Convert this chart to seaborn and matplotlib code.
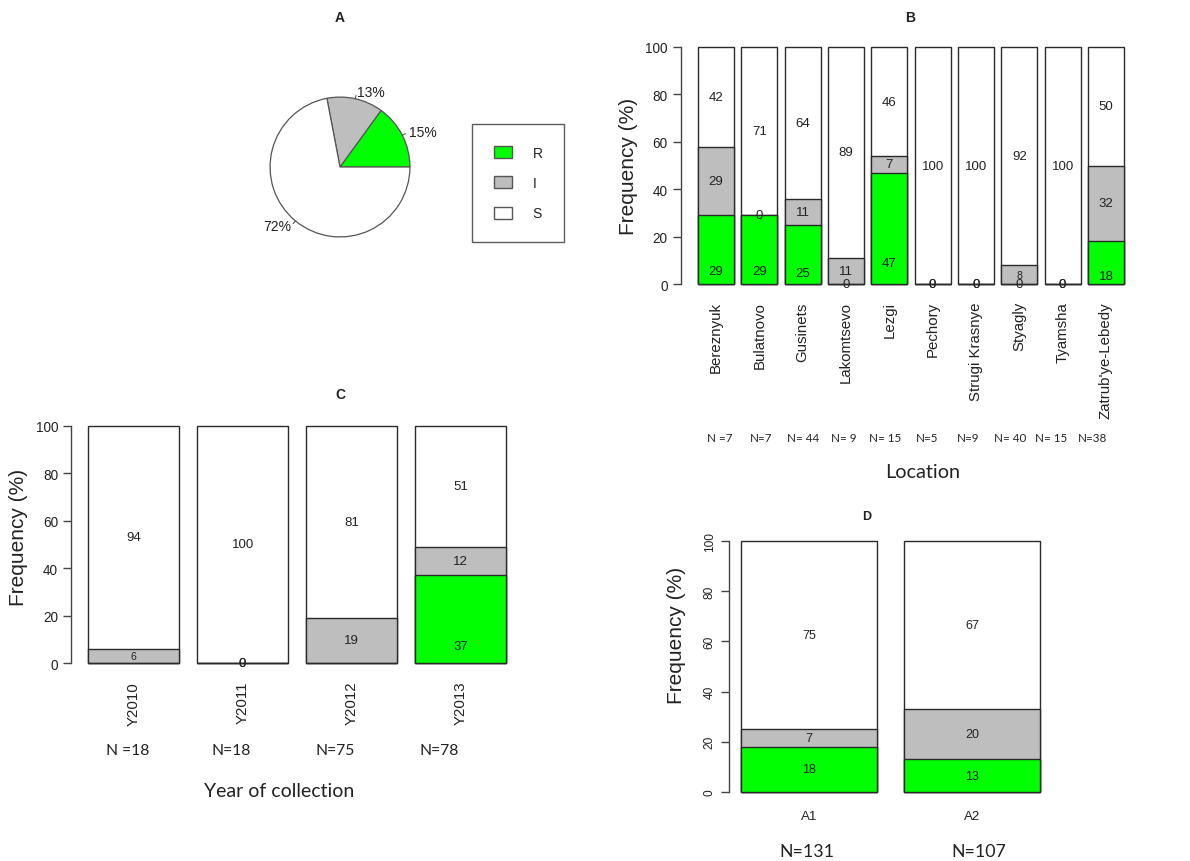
import numpy as np
import pandas as pd
import matplotlib
matplotlib.use("Agg")
import matplotlib.pyplot as plt
import matplotlib.transforms as mtransforms
from matplotlib.patches import Patch, Rectangle
import seaborn as sns

# ---------------- data ----------------
phenotypes = ["R", "I", "S"]
overall_pct = [15, 13, 72]

locations = ["Bereznyuk", "Bulatnovo", "Gusinets", "Lakomtsevo", "Lezgi",
             "Pechory", "Strugi Krasnye", "Styagly", "Tyamsha", "Zatrub'ye-Lebedy"]
loc_R = [29, 29, 25, 0, 47, 0, 0, 0, 0, 18]
loc_I = [29, 0, 11, 11, 7, 0, 0, 8, 0, 32]
loc_S = [42, 71, 64, 89, 46, 100, 100, 92, 100, 50]
loc_n = ["N =7", "N=7", "N= 44", "N= 9", "N= 15", "N=5", "N=9", "N= 40", "N= 15", "N=38"]

years = ["Y2010", "Y2011", "Y2012", "Y2013"]
year_R = [0, 0, 0, 37]
year_I = [6, 0, 19, 12]
year_S = [94, 100, 81, 51]
year_n = ["N =18", "N=18", "N=75", "N=78"]

groups = ["A1", "A2"]
grp_R = [18, 13]
grp_I = [7, 20]
grp_S = [75, 67]
grp_n = ["N=131", "N=107"]

# ---------------- style ----------------
COLORS = {"R": "#00ff00", "I": "#bebebe", "S": "#ffffff"}
EDGE = "#2a2a2a"
AXC = "#444444"
TXT = "#222222"
W_PX, H_PX = 1190, 862

sns.set_theme(style="white")
plt.rcParams["font.family"] = ["Liberation Sans", "DejaVu Sans"]
CAL = ["Lato", "DejaVu Sans"]

fig = plt.figure(figsize=(W_PX / 100, H_PX / 100), dpi=100)
fig.patch.set_facecolor("white")


def fx(x):
    return x / W_PX


def fy(y):
    return 1 - y / H_PX


def add_axes_px(left, top, right, bottom):
    return fig.add_axes([fx(left), fy(bottom), (right - left) / W_PX, (bottom - top) / H_PX])


def stacked_panel(ax, cats, r, i, s, xlim, r_frac, val_size, tick_size,
                  xrot, xpad, ytick_rot=0, small=(), hide_zero_r=()):
    df = pd.DataFrame({"cat": cats, "R": r, "I": i, "S": s})
    df["RI"] = df["R"] + df["I"]
    df["RIS"] = df["RI"] + df["S"]
    for col, key in [("RIS", "S"), ("RI", "I"), ("R", "R")]:
        sns.barplot(data=df, x="cat", y=col, order=cats, color=COLORS[key],
                    saturation=1, width=1 / 1.2, edgecolor=EDGE, linewidth=1,
                    errorbar=None, ax=ax)
    ax.set_xlim(*xlim)
    ax.set_ylim(-4, 104)
    ax.set_xlabel("")
    ax.set_ylabel("")
    for sp in ["top", "right", "bottom"]:
        ax.spines[sp].set_visible(False)
    ax.spines["left"].set_bounds(0, 100)
    ax.spines["left"].set_color(AXC)
    ax.spines["left"].set_linewidth(1)
    ax.set_yticks(range(0, 101, 20))
    ax.tick_params(axis="y", direction="out", length=5.5, width=1, color=AXC,
                   labelsize=tick_size, labelcolor=TXT, pad=4, left=True)
    if ytick_rot:
        for lab in ax.get_yticklabels():
            lab.set_rotation(ytick_rot)
            lab.set_va("center")
    ax.tick_params(axis="x", length=0, labelsize=tick_size + 1, labelcolor=TXT, pad=xpad)
    for lab in ax.get_xticklabels():
        lab.set_rotation(xrot)
        if xrot:
            lab.set_va("top")
            lab.set_ha("center")
    ax.grid(False)
    ax.set_facecolor("none")

    clip = Rectangle((xlim[0], 0), xlim[1] - xlim[0], 110, transform=ax.transData)
    for k, cat in enumerate(cats):
        rv, iv, sv = r[k], i[k], s[k]
        entries = [("S", sv, rv + iv + sv / 2), ("I", iv, rv + iv / 2), ("R", rv, rv * r_frac)]
        for key, v, y in entries:
            if key == "R" and v == 0 and k in hide_zero_r:
                continue
            fs = val_size * 0.8 if (cat, key) in small else val_size
            t = ax.text(k, y, f"{v}", ha="center", va="center", fontsize=fs, color=TXT)
            if v == 0 and y == 0:
                t.set_clip_path(clip)


# ---------------- A: pie ----------------
axA = add_axes_px(240, 68, 440, 268)
wedges, _ = axA.pie(overall_pct, colors=[COLORS[p] for p in phenotypes], startangle=0,
                    counterclock=True, radius=1,
                    wedgeprops=dict(edgecolor="#555555", linewidth=0.9))
axA.set_xlim(-1.43, 1.43)
axA.set_ylim(-1.43, 1.43)
axA.set_aspect("equal")
axA.axis("off")
start = 0.0
for v in overall_pct:
    mid = np.deg2rad(start + 360 * v / 100 / 2)
    start += 360 * v / 100
    c, s_ = np.cos(mid), np.sin(mid)
    axA.plot([c, 1.05 * c], [s_, 1.05 * s_], color="#555555", lw=0.8)
    axA.text(1.1 * c, 1.1 * s_, f"{v}%", ha="left" if c >= 0 else "right",
             va="center", fontsize=10, color=TXT)
fig.text(fx(340), fy(18), "A", ha="center", va="center", fontsize=10, fontweight="bold", color=TXT)

leg = fig.legend(handles=[Patch(facecolor=COLORS[p], edgecolor="#555555", linewidth=1) for p in phenotypes],
                 labels=phenotypes, loc="upper left", bbox_to_anchor=(fx(472), fy(125)),
                 frameon=True, fancybox=False, edgecolor="#333333", fontsize=10,
                 borderpad=1.55, handlelength=1.35, handleheight=0.95, handletextpad=1.45,
                 labelspacing=1.18, borderaxespad=0)
leg.get_frame().set_linewidth(1)
for t in leg.get_texts():
    t.set_color(TXT)

# ---------------- B: by location ----------------
axB = add_axes_px(681, 38.5, 1141, 294.5)
stacked_panel(axB, locations, loc_R, loc_I, loc_S, (-0.81, 9.81), 0.19, 9.5, 9.8,
              xrot=90, xpad=5.5, small={("Styagly", "I")})
fig.text(fx(910), fy(18), "B", ha="center", va="center", fontsize=10, fontweight="bold", color=TXT)
fig.text(fx(628), fy(166), "Frequency (%)", rotation=90, ha="center", va="center", fontsize=15, color=TXT)
trB = mtransforms.blended_transform_factory(axB.transData, fig.transFigure)
for k, lab in enumerate(loc_n):
    axB.text(0.09 + 0.956 * k, fy(439), lab, transform=trB, ha="center", va="center",
             fontsize=8.4, family=CAL, color=TXT)
fig.text(fx(923), fy(473), "Location", ha="center", va="center", fontsize=14.3, family=CAL, color=TXT)

# ---------------- C: by year ----------------
axC = add_axes_px(71.3, 417.5, 523, 673.5)
stacked_panel(axC, years, year_R, year_I, year_S, (-0.57, 3.57), 0.19, 9.5, 9.8,
              xrot=90, xpad=6, small={("Y2010", "I")}, hide_zero_r={0, 2})
fig.text(fx(340), fy(395), "C", ha="center", va="center", fontsize=10, fontweight="bold", color=TXT)
fig.text(fx(19), fy(537), "Frequency (%)", rotation=90, ha="center", va="center", fontsize=15, color=TXT)
trC = mtransforms.blended_transform_factory(axC.transData, fig.transFigure)
for k, lab in enumerate(year_n):
    axC.text(k - 0.05 - 0.05 * k, fy(751), lab, transform=trC, ha="center", va="center",
             fontsize=11.3, family=CAL, color=TXT)
fig.text(fx(279), fy(792), "Year of collection", ha="center", va="center", fontsize=14, family=CAL, color=TXT)

# ---------------- D: by group ----------------
axD = add_axes_px(729, 532, 1052, 803)
stacked_panel(axD, groups, grp_R, grp_I, grp_S, (-0.49, 1.49), 0.5, 9, 8.6,
              xrot=0, xpad=6, ytick_rot=90)
fig.text(fx(867), fy(517), "D", ha="center", va="center", fontsize=9, fontweight="bold", color=TXT)
fig.text(fx(676), fy(635), "Frequency (%)", rotation=90, ha="center", va="center", fontsize=15, color=TXT)
trD = mtransforms.blended_transform_factory(axD.transData, fig.transFigure)
for k, lab in enumerate(grp_n):
    axD.text(k + 0.05 * k - 0.01, fy(852), lab, transform=trD, ha="center", va="center",
             fontsize=12.8, family=CAL, color=TXT)

fig.savefig("out.png", dpi=100, facecolor="white")
